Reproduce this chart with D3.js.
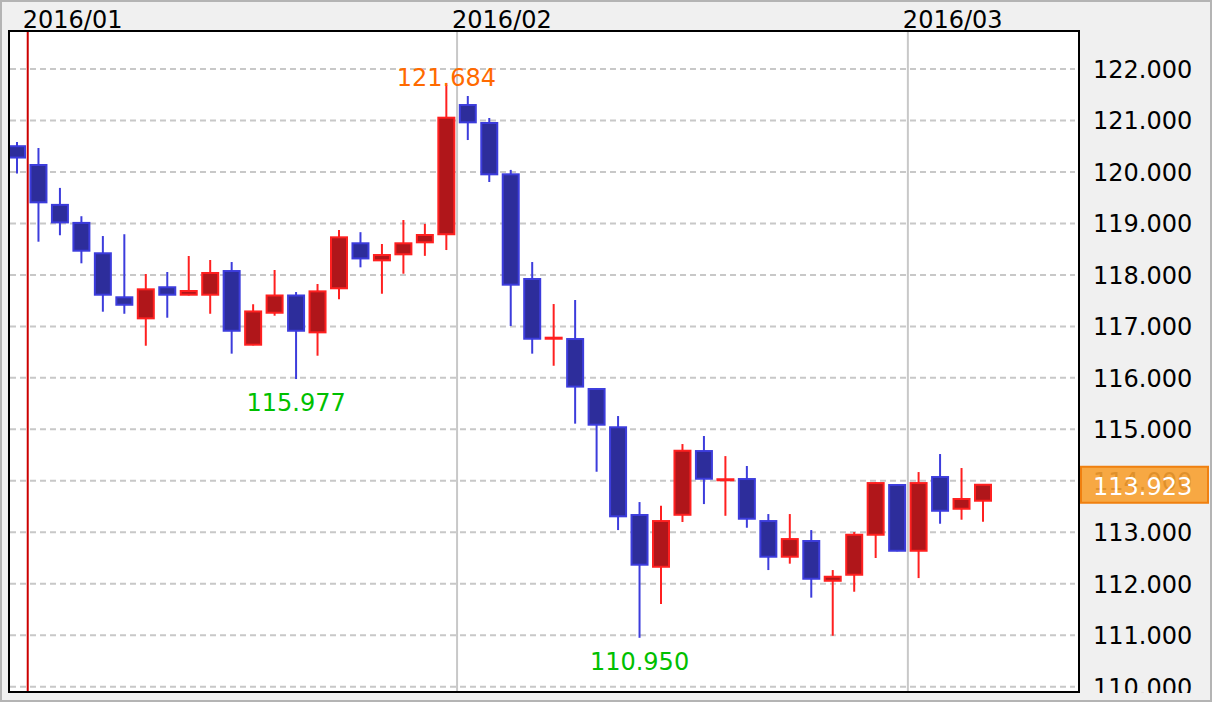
<!DOCTYPE html>
<html>
<head>
<meta charset="utf-8">
<script src="https://cdn.jsdelivr.net/npm/d3@7"></script>
<style>
  body { margin: 0; background: #f0f0f0; }
  svg { display: block; font-family: "DejaVu Sans", Verdana, sans-serif; }
</style>
</head>
<body>
<div class="container"></div>
<script>
// daily candles, USD/JPY style
var dates = [
  "2015-12-31",
  "2016-01-04", "2016-01-05", "2016-01-06", "2016-01-07", "2016-01-08",
  "2016-01-11", "2016-01-12", "2016-01-13", "2016-01-14", "2016-01-15",
  "2016-01-18", "2016-01-19", "2016-01-20", "2016-01-21", "2016-01-22",
  "2016-01-25", "2016-01-26", "2016-01-27", "2016-01-28", "2016-01-29",
  "2016-02-01", "2016-02-02", "2016-02-03", "2016-02-04", "2016-02-05",
  "2016-02-08", "2016-02-09", "2016-02-10", "2016-02-11", "2016-02-12",
  "2016-02-15", "2016-02-16", "2016-02-17", "2016-02-18", "2016-02-19",
  "2016-02-22", "2016-02-23", "2016-02-24", "2016-02-25", "2016-02-26",
  "2016-02-29",
  "2016-03-01", "2016-03-02", "2016-03-03", "2016-03-04"
];
var open = [
  120.500, 120.135, 119.360, 119.010, 118.420, 117.565, 117.156, 117.760, 117.615, 117.615,
  118.075, 116.644, 117.265, 117.600, 116.884, 117.740, 118.614, 118.283, 118.400, 118.633,
  118.790, 121.300, 120.951, 119.954, 117.920, 116.760, 116.754, 115.783, 115.040, 113.335,
  112.330, 113.340, 114.578, 114.010, 114.034, 113.218, 112.525, 112.830, 112.058, 112.175,
  112.952, 113.918, 112.641, 114.073, 113.457, 113.613
];
var high = [
  120.580, 120.465, 119.690, 119.140, 118.755, 118.790, 118.017, 118.056, 118.367, 118.290,
  118.250, 117.430, 118.095, 117.667, 117.823, 118.870, 118.830, 118.600, 119.066, 118.990,
  121.684, 121.475, 121.048, 120.040, 118.250, 117.434, 117.512, 115.800, 115.258, 113.587,
  113.515, 114.714, 114.870, 114.480, 114.287, 113.354, 113.354, 113.043, 112.266, 113.004,
  113.970, 113.930, 114.170, 114.520, 114.248, 113.937
];
var low = [
  119.970, 118.645, 118.770, 118.225, 117.285, 117.245, 116.624, 117.168, 117.600, 117.245,
  116.470, 116.630, 117.207, 115.977, 116.430, 117.525, 118.147, 117.634, 118.023, 118.370,
  118.483, 120.620, 119.805, 117.007, 116.470, 116.235, 115.110, 114.176, 113.043, 110.950,
  111.606, 113.200, 113.548, 113.320, 113.088, 112.266, 112.390, 111.730, 110.990, 111.845,
  112.500, 112.630, 112.110, 113.166, 113.244, 113.205
];
var close = [
  120.280, 119.410, 119.020, 118.470, 117.615, 117.420, 117.720, 117.615, 117.687, 118.037,
  116.915, 117.290, 117.600, 116.915, 117.680, 118.730, 118.320, 118.386, 118.614, 118.775,
  121.054, 120.964, 119.954, 117.810, 116.760, 116.780, 115.830, 115.090, 113.310, 112.370,
  113.218, 114.584, 114.040, 114.030, 113.263, 112.525, 112.868, 112.097, 112.136, 112.952,
  113.956, 112.641, 113.956, 113.418, 113.646, 113.923
];
var yTicks = [110, 111, 112, 113, 114, 115, 116, 117, 118, 119, 120, 121, 122];

// swing points that get a price label
var markIdx = [13, 20, 29];
var markType = ["low", "high", "low"];

var W = 1212, H = 702;
var plot = {left: 9, top: 31, right: 1079, bottom: 692};

var x = d3.scaleLinear().domain([0, dates.length - 1]).range([17, 983]);
var y = d3.scaleLinear().domain([110, 122]).range([686.7, 69]);
var fmt = d3.format(".3f");
var parseDay = d3.timeParse("%Y-%m-%d");

var svg = d3.select(".container").append("svg")
    .attr("width", W)
    .attr("height", H);

var defs = svg.append("defs");
defs.append("clipPath").attr("id", "plotClip")
  .append("rect")
    .attr("x", plot.left + 1).attr("y", plot.top + 1)
    .attr("width", plot.right - plot.left - 2)
    .attr("height", plot.bottom - plot.top - 2);
defs.append("clipPath").attr("id", "axisClip")
  .append("rect")
    .attr("x", plot.right + 1).attr("y", plot.top)
    .attr("width", W - plot.right - 3)
    .attr("height", plot.bottom - plot.top + 1);

// background + outer frame
svg.append("rect")
    .attr("x", 1).attr("y", 1)
    .attr("width", W - 2).attr("height", H - 2)
    .attr("fill", "#f0f0f0")
    .attr("stroke", "#b4b4b4")
    .attr("stroke-width", 2);

svg.append("rect")
    .attr("x", plot.left).attr("y", plot.top)
    .attr("width", plot.right - plot.left)
    .attr("height", plot.bottom - plot.top)
    .attr("fill", "#fff");

var inner = svg.append("g").attr("clip-path", "url(#plotClip)");

// horizontal dashed grid
inner.append("g").selectAll("line")
    .data(yTicks)
  .enter().append("line")
    .attr("x1", plot.left + 1)
    .attr("x2", plot.right - 4)
    .attr("y1", function(d) { return y(d); })
    .attr("y2", function(d) { return y(d); })
    .attr("stroke", "#c8c8c8")
    .attr("stroke-width", 2)
    .attr("stroke-dasharray", "6,4");

// month boundaries
var months = [];
dates.forEach(function(d, i) {
  if (i === 0) return;
  var a = parseDay(dates[i - 1]), b = parseDay(d);
  if (a.getMonth() !== b.getMonth()) {
    months.push({i: i, date: b, newYear: a.getFullYear() !== b.getFullYear()});
  }
});

inner.append("g").selectAll("line")
    .data(months)
  .enter().append("line")
    .attr("x1", function(d) { return x(d.i - 0.5); })
    .attr("x2", function(d) { return x(d.i - 0.5); })
    .attr("y1", plot.top)
    .attr("y2", plot.bottom)
    .attr("stroke", function(d) { return d.newYear ? "#cc0000" : "#c8c8c8"; })
    .attr("stroke-width", 2);

svg.append("g").selectAll("text")
    .data(months)
  .enter().append("text")
    .attr("x", function(d) { return x(d.i - 0.5) - 5; })
    .attr("y", 28)
    .attr("font-size", 24)
    .attr("fill", "#000")
    .text(function(d) { return d3.timeFormat("%Y/%m")(d.date); });

// candles
var candles = dates.map(function(d, i) {
  return {i: i, o: open[i], h: high[i], l: low[i], c: close[i], up: close[i] >= open[i]};
});
var lineCol = function(d) { return d.up ? "#ff2020" : "#3c3cdc"; };
var fillCol = function(d) { return d.up ? "#b0161a" : "#2d2d9b"; };
var bodyW = 16;

var cg = inner.append("g").selectAll("g")
    .data(candles)
  .enter().append("g");

cg.append("line")
    .attr("x1", function(d) { return x(d.i); })
    .attr("x2", function(d) { return x(d.i); })
    .attr("y1", function(d) { return y(d.h); })
    .attr("y2", function(d) { return y(d.l); })
    .attr("stroke", lineCol)
    .attr("stroke-width", 2);

cg.append("rect")
    .attr("x", function(d) { return x(d.i) - bodyW / 2; })
    .attr("width", bodyW)
    .attr("y", function(d) { return y(Math.max(d.o, d.c)); })
    .attr("height", function(d) { return Math.max(1, Math.abs(y(d.o) - y(d.c))); })
    .attr("fill", fillCol)
    .attr("stroke", lineCol)
    .attr("stroke-width", 2);

// swing labels
var marks = markIdx.map(function(i, k) {
  return {i: i, type: markType[k], v: markType[k] === "high" ? high[i] : low[i]};
});
inner.append("g").selectAll("text")
    .data(marks)
  .enter().append("text")
    .attr("x", function(d) { return x(d.i); })
    .attr("y", function(d) { return d.type === "high" ? y(d.v) + 1 : y(d.v) + 32; })
    .attr("text-anchor", "middle")
    .attr("font-size", 24)
    .attr("fill", function(d) { return d.type === "high" ? "#ff6a00" : "#00c000"; })
    .text(function(d) { return fmt(d.v); });

// plot frame
svg.append("rect")
    .attr("x", plot.left).attr("y", plot.top)
    .attr("width", plot.right - plot.left)
    .attr("height", plot.bottom - plot.top)
    .attr("fill", "none")
    .attr("stroke", "#000")
    .attr("stroke-width", 2);

// price axis on the right
var axis = svg.append("g").attr("clip-path", "url(#axisClip)");
axis.selectAll("text.tick")
    .data(yTicks)
  .enter().append("text")
    .attr("class", "tick")
    .attr("x", 1093)
    .attr("y", function(d) { return y(d) + 9; })
    .attr("font-size", 24)
    .attr("fill", "#000")
    .text(function(d) { return fmt(d); });

// last price marker
var last = close[close.length - 1];
axis.append("rect")
    .attr("x", plot.right + 2)
    .attr("y", y(last) - 18)
    .attr("width", 127)
    .attr("height", 36)
    .attr("fill", "#f7a030")
    .attr("fill-opacity", 0.9)
    .attr("stroke", "#f08010")
    .attr("stroke-width", 2);
axis.append("text")
    .attr("x", 1093)
    .attr("y", y(last) + 10)
    .attr("font-size", 24)
    .attr("fill", "#fff")
    .text(fmt(last));
</script>
</body>
</html>
